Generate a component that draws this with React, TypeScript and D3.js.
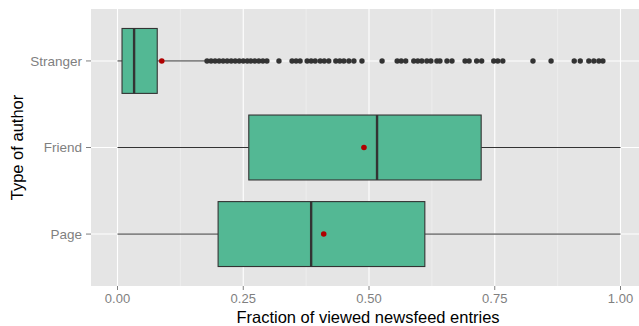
import React from "react";
import * as d3 from "d3";

const width = 639;
const height = 326;

const categories = ["Stranger", "Friend", "Page"];
// five number summaries: [lower whisker, q1, median, q3, upper whisker]
const boxStats = [
  [0.0, 0.009, 0.033, 0.079, 0.178],
  [0.0, 0.261, 0.516, 0.723, 1.0],
  [0.0, 0.2, 0.385, 0.611, 1.0],
];
const means = [0.088, 0.49, 0.41];
const strangerOutliers = [
  0.178, 0.186, 0.194, 0.202, 0.21, 0.218, 0.226, 0.234, 0.242, 0.25, 0.258,
  0.265, 0.273, 0.281, 0.289, 0.297, 0.321, 0.347, 0.355, 0.363, 0.377, 0.385,
  0.393, 0.403, 0.411, 0.42, 0.434, 0.442, 0.45, 0.46, 0.47, 0.486, 0.526,
  0.556, 0.564, 0.573, 0.589, 0.597, 0.605, 0.615, 0.623, 0.635, 0.641, 0.655,
  0.665, 0.691, 0.699, 0.714, 0.724, 0.748, 0.756, 0.766, 0.826, 0.862, 0.908,
  0.92, 0.937, 0.947, 0.957, 0.965,
];
const xTicks = [0, 0.25, 0.5, 0.75, 1];
const xMinor = [0.125, 0.375, 0.625, 0.875];

const font = "'Liberation Sans', Arial, sans-serif";

export default function App() {
  const panel = { left: 91, right: 639, top: 9, bottom: 286 };

  // x scale (0 -> 117.5, 1 -> 620.5)
  const x = d3.scaleLinear().domain([0, 1]).range([117.5, 620.5]);
  const y = d3
    .scaleBand()
    .domain(categories)
    .range([panel.top, panel.bottom])
    .paddingOuter(0.1)
    .paddingInner(0);
  const cy = (c: string) => (y(c) as number) + y.bandwidth() / 2;
  const boxH = y.bandwidth() * 0.75;

  const fill = "#53B894";
  const dark = "#333333";

  return (
    <svg
      width={width}
      height={height}
      style={{ position: "absolute", left: 0, top: 0, background: "#fff" }}
      fontFamily={font}
    >
      <rect
        x={panel.left}
        y={panel.top}
        width={panel.right - panel.left}
        height={panel.bottom - panel.top}
        fill="#E5E5E5"
      />
      {xMinor.map((t) => (
        <line
          key={"mn" + t}
          x1={x(t)}
          x2={x(t)}
          y1={panel.top}
          y2={panel.bottom}
          stroke="#F2F2F2"
          strokeWidth={0.6}
        />
      ))}
      {xTicks.map((t) => (
        <line
          key={"mj" + t}
          x1={x(t)}
          x2={x(t)}
          y1={panel.top}
          y2={panel.bottom}
          stroke="#fff"
          strokeWidth={1.1}
        />
      ))}
      {categories.map((c) => (
        <line
          key={"hy" + c}
          x1={panel.left}
          x2={panel.right}
          y1={cy(c)}
          y2={cy(c)}
          stroke="#fff"
          strokeWidth={1.1}
        />
      ))}

      {categories.map((c, i) => {
        const [lo, q1, med, q3, hi] = boxStats[i];
        const yc = cy(c);
        return (
          <g key={"box" + c}>
            <line x1={x(lo)} x2={x(q1)} y1={yc} y2={yc} stroke={dark} strokeWidth={1} />
            <line x1={x(q3)} x2={x(hi)} y1={yc} y2={yc} stroke={dark} strokeWidth={1} />
            <rect
              x={x(q1)}
              y={yc - boxH / 2}
              width={x(q3) - x(q1)}
              height={boxH}
              fill={fill}
              stroke={dark}
              strokeWidth={1.1}
            />
            <line
              x1={x(med)}
              x2={x(med)}
              y1={yc - boxH / 2}
              y2={yc + boxH / 2}
              stroke={dark}
              strokeWidth={2.4}
            />
          </g>
        );
      })}

      {strangerOutliers.map((v, i) => (
        <circle key={"o" + i} cx={x(v)} cy={cy("Stranger")} r={2.7} fill={dark} />
      ))}

      {categories.map((c, i) => (
        <circle key={"m" + c} cx={x(means[i])} cy={cy(c)} r={2.8} fill="#B00000" />
      ))}

      {/* x axis */}
      {xTicks.map((t) => (
        <g key={"xt" + t} transform={`translate(${x(t)},${panel.bottom})`}>
          <line y1={0} y2={4} stroke="#7F7F7F" strokeWidth={1} />
          <text y={16.5} textAnchor="middle" fontSize={13} fill="#7F7F7F">
            {t.toFixed(2)}
          </text>
        </g>
      ))}
      <text
        x={(panel.left + panel.right) / 2 + 3}
        y={323}
        textAnchor="middle"
        fontSize={16.5}
        fill="#000"
      >
        Fraction of viewed newsfeed entries
      </text>

      {/* y axis */}
      {categories.map((c) => (
        <g key={"yt" + c} transform={`translate(${panel.left},${cy(c)})`}>
          <line x1={-5} x2={0} stroke="#7F7F7F" strokeWidth={1} />
          <text x={-9} dy="0.35em" textAnchor="end" fontSize={13.5} fill="#7F7F7F">
            {c}
          </text>
        </g>
      ))}
      <text
        transform={`translate(23,${(panel.top + panel.bottom) / 2}) rotate(-90)`}
        textAnchor="middle"
        fontSize={16.5}
        fill="#000"
      >
        Type of author
      </text>
    </svg>
  );
}
